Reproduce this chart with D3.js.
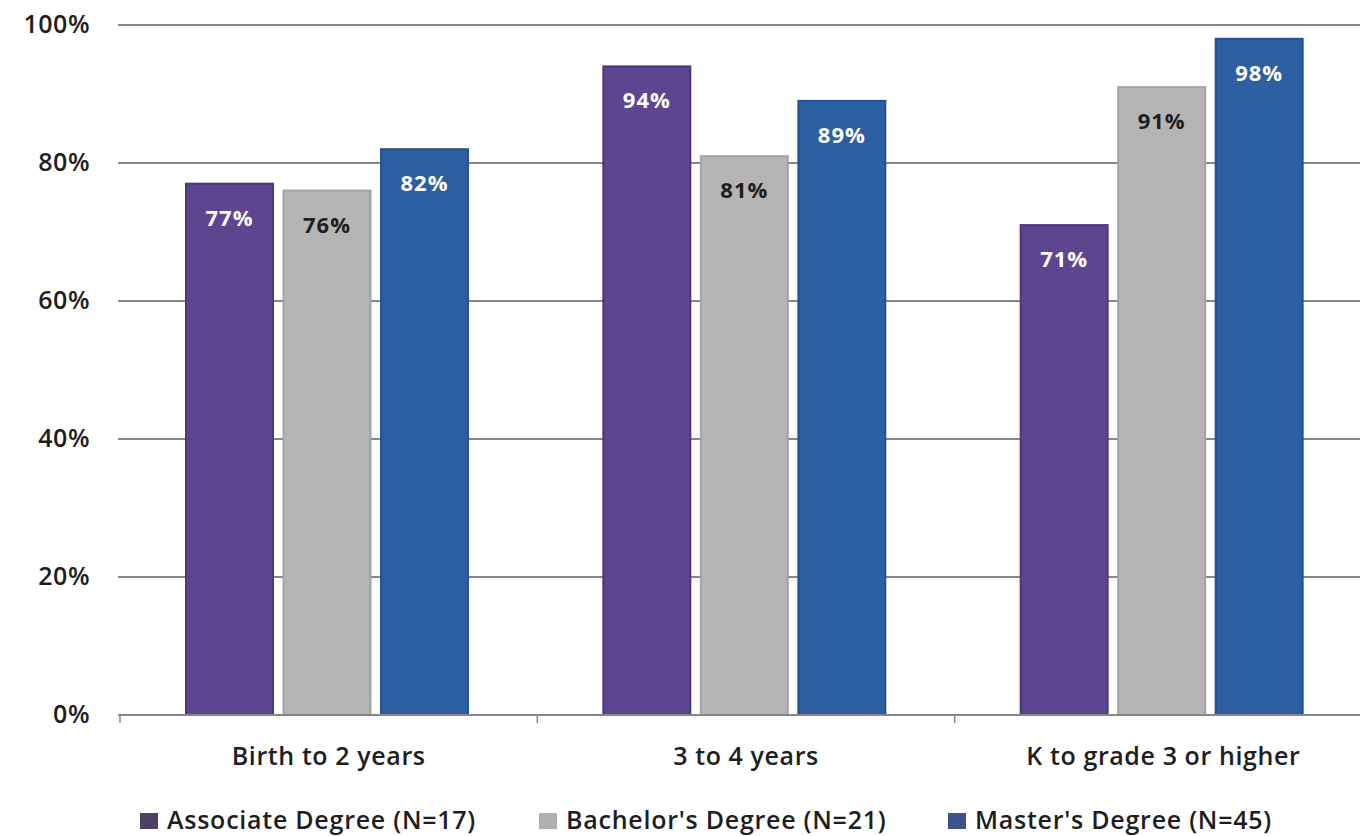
<!DOCTYPE html>
<html>
<head>
<meta charset="utf-8">
<script src="https://cdn.jsdelivr.net/npm/d3@7"></script>
<style>
  html, body { margin: 0; padding: 0; background: #ffffff; }
  svg { display: block; }
  text { font-family: "Open Sans", "DejaVu Sans", sans-serif; }
</style>
</head>
<body>
<svg id="chart" width="1360" height="836"></svg>
<script>
// Age groups along the x axis
const categories = ["Birth to 2 years", "3 to 4 years", "K to grade 3 or higher"];
// Degree series shown in the legend
const seriesNames = ["Associate Degree (N=17)", "Bachelor's Degree (N=21)", "Master's Degree (N=45)"];
// Percent values per series, in category order
const associateValues = [77, 94, 71];
const bachelorValues = [76, 81, 91];
const masterValues = [82, 89, 98];
// Y axis ticks
const yTicks = [0, 20, 40, 60, 80, 100];

const seriesValues = [associateValues, bachelorValues, masterValues];
const fills = ["#5d4590", "#b4b4b4", "#2c5ea2"];
const strokes = ["#4d3878", "#a4a4a4", "#25528f"];
const labelColors = ["#ffffff", "#1e1e1e", "#ffffff"];
const legendFills = ["#4d4262", "#b0b0b0", "#3c5488"];

const svg = d3.select("#chart");
const margin = { left: 120, right: -12, top: 25, bottom: 121 };
const width = 1360;
const height = 836;
const textColor = "#1e1e1e";

const x = d3.scaleBand()
  .domain(categories)
  .range([margin.left, width - margin.right]);

// Bars inside each category: 87px wide with ~10px gaps, offset 66px from the band start
const inner = d3.scaleBand()
  .domain(d3.range(seriesNames.length))
  .range([66, 348])
  .paddingInner(0.108)
  .paddingOuter(0);

const y = d3.scaleLinear()
  .domain([0, 100])
  .range([height - margin.bottom, margin.top]);

// Horizontal gridlines
svg.append("g")
  .selectAll("line")
  .data(yTicks.filter(d => d > 0))
  .join("line")
  .attr("x1", margin.left - 2)
  .attr("x2", width)
  .attr("y1", d => y(d))
  .attr("y2", d => y(d))
  .attr("stroke", "#878787")
  .attr("stroke-width", 2);

// Y axis labels
const yAxis = d3.axisLeft(y)
  .tickValues(yTicks)
  .tickFormat(d => d + "%")
  .tickSize(0)
  .tickPadding(30);

svg.append("g")
  .attr("transform", `translate(${margin.left},0)`)
  .call(yAxis)
  .call(g => g.select(".domain").remove())
  .call(g => g.selectAll("text")
    .attr("font-size", 25)
    .attr("font-weight", 600)
    .attr("letter-spacing", 0.5)
    .attr("dy", "0.3em")
    .attr("fill", textColor));

// Bars
const groups = svg.append("g")
  .selectAll("g")
  .data(categories)
  .join("g")
  .attr("transform", d => `translate(${x(d)},0)`);

const cells = (c, ci) => seriesValues.map((vals, si) => ({ si, v: vals[ci] }));

groups.selectAll("rect")
  .data(cells)
  .join("rect")
  .attr("x", d => inner(d.si))
  .attr("width", inner.bandwidth())
  .attr("y", d => y(d.v))
  .attr("height", d => y(0) - y(d.v))
  .attr("fill", d => fills[d.si])
  .attr("stroke", d => strokes[d.si])
  .attr("stroke-width", 2);

// Value labels inside the bars
groups.selectAll("text.val")
  .data(cells)
  .join("text")
  .attr("class", "val")
  .attr("x", d => inner(d.si) + inner.bandwidth() / 2)
  .attr("y", d => y(d.v) + 42)
  .attr("text-anchor", "middle")
  .attr("font-size", 22)
  .attr("font-weight", 700)
  .attr("letter-spacing", 1)
  .attr("fill", d => labelColors[d.si])
  .text(d => d.v + "%");

// X axis baseline with category labels and separators
const xAxis = d3.axisBottom(x).tickSize(0).tickPadding(0);
const xg = svg.append("g")
  .attr("transform", `translate(0,${y(0)})`)
  .call(xAxis);
xg.select(".domain").remove();
xg.selectAll("text")
  .attr("y", 50)
  .attr("dy", 0)
  .attr("font-size", 25)
  .attr("font-weight", 600)
  .attr("letter-spacing", 0.6)
  .attr("fill", textColor);

xg.append("line")
  .attr("x1", margin.left - 2)
  .attr("x2", width)
  .attr("y1", 0)
  .attr("y2", 0)
  .attr("stroke", "#878787")
  .attr("stroke-width", 2);

xg.selectAll("line.sep")
  .data(categories)
  .join("line")
  .attr("class", "sep")
  .attr("x1", d => x(d))
  .attr("x2", d => x(d))
  .attr("y1", 0)
  .attr("y2", 8)
  .attr("stroke", "#878787")
  .attr("stroke-width", 1.5);

// Legend
const legendX = [140, 539, 948];
const legend = svg.append("g")
  .selectAll("g")
  .data(seriesNames)
  .join("g")
  .attr("transform", (d, i) => `translate(${legendX[i]},829)`);

legend.append("rect")
  .attr("x", 0)
  .attr("y", -16)
  .attr("width", 18)
  .attr("height", 16)
  .attr("fill", (d, i) => legendFills[i]);

legend.append("text")
  .attr("x", 27)
  .attr("y", 0)
  .attr("font-size", 25)
  .attr("font-weight", 600)
  .attr("letter-spacing", 0.75)
  .attr("fill", textColor)
  .text(d => d);
</script>
</body>
</html>
